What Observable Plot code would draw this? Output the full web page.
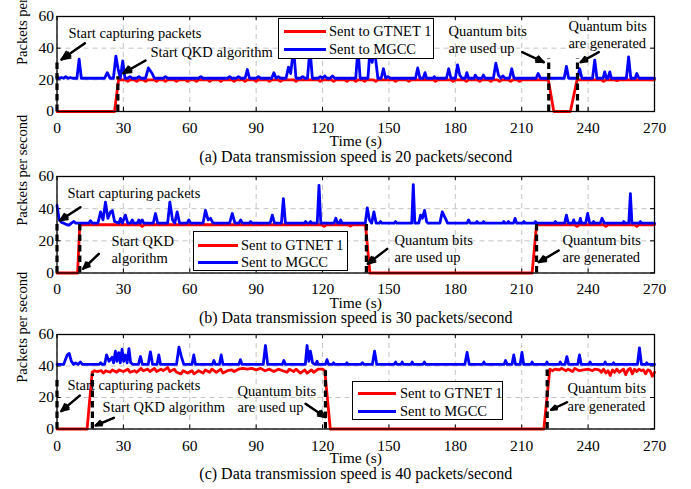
<!DOCTYPE html>
<html><head><meta charset="utf-8">
<script src="https://cdn.jsdelivr.net/npm/d3@7"></script>
<script src="https://cdn.jsdelivr.net/npm/@observablehq/plot@0.6"></script>
<style>
body{margin:0;background:#fff;}
#root{position:relative;width:691px;height:489px;overflow:hidden;font-family:"Liberation Serif","Times New Roman",serif;background:#fff;}
.panel{position:absolute;left:0;}
.legend{position:absolute;background:#fff;border:1px solid #000;box-sizing:border-box;font-size:14.5px;color:#000;}
.row{position:absolute;left:0;height:18px;display:flex;align-items:center;white-space:nowrap;}
.sw{display:inline-block;height:3px;}
</style></head><body><div id="root"></div>
<script>
// ---------- axis ticks ----------
const xTicks = [0, 30, 60, 90, 120, 150, 180, 210, 240, 270];
const yTicks = [0, 20, 40, 60];
const seriesNames = ["Sent to GTNET 1", "Sent to MGCC"];
const seriesColors = ["#ff0000", "#0000ff"];
const captions = [
  "(a) Data transmission speed is 20 packets/second",
  "(b) Data transmission speed is 30 packets/second",
  "(c) Data transmission speed is 40 packets/second"
];

// ---------- panel (a): 20 packets/second ----------
const aRed = [[0,0],[26,0],[27.8,20],[31,20],[32,19],[33,20],[35,20],[36,19],[37,20],[39,20],[40,19],[41,20],[44,20],[45,19],[46,20],[48,20],[49,19],[50,20],[53,20],[54,19],[55,20],[58,20],[59,19],[60,20],[62,20],[63,19],[64,20],[68,20],[69,19],[70,20],[73,20],[74,19],[75,20],[79,20],[80,19],[81,20],[84,20],[85,19],[86,20],[89,20],[90,19],[91,20],[95,20],[96,19],[97,20],[100,20],[101,19],[102,20],[107,20],[108,19],[109,20],[118,20],[119,19],[120,20],[124,20],[125,19],[126,20],[130,20],[131,19],[132,20],[134,20],[135,19],[136,20],[138,20],[139,19],[140,20],[143,20],[144,19],[145,20],[152,20],[153,19],[154,20],[158,20],[159,19],[160,20],[170,20],[171,19],[172,20],[178,20],[179,19],[180,20],[184,20],[185,19],[186,20],[190,20],[191,19],[192,20],[195,20],[196,19],[197,20],[199,20],[200,19],[201,20],[204,20],[205,19],[206,20],[208,20],[209,19],[210,20],[222,20],[224.5,0],[232,0],[235,20],[246,20],[247,19],[248,20],[252,20],[253,19.5],[254,20],[270,20]];
const aBlue = [[0,22],[1,21],[2,21.5],[3,21],[4,22],[5,21],[6,21.5],[7,21],[9,21],[10,33],[11,21],[21.5,21],[22.7,24.5],[24,21],[25.5,21],[26.6,35],[27.6,27],[28.6,21],[29.7,32],[30.7,21],[32,21],[33,22],[34,21],[36,21],[37,22],[38,21],[40,21],[41.3,27.5],[43,24],[44,21],[48,21],[49,22],[50,21],[64,21],[65,22],[66,21],[77,21],[78,22],[79,21],[81,21],[82,22],[83,21],[85,21],[86,26.5],[87,21],[90,21],[91,22],[92,21],[97,21],[98,24.5],[99,21],[100,22],[101,21],[103.5,21],[104.6,28],[105.6,24],[106.9,40],[108,21],[110,21],[111,22],[112,21],[113.2,21],[114.3,40],[115.4,21],[118,21],[119,22],[120,21],[121,22.5],[122,21],[123.5,21],[124.5,22.5],[125.5,21],[135,21],[136,40],[137,21],[140.5,21],[141.5,40],[142.4,31],[143.4,40],[145,21],[146.5,21],[147.5,27],[148.5,21],[149.5,22],[150.5,21],[162,21],[163,27.5],[164,21],[165.5,21],[166.3,24.5],[167,21],[170,21],[170.5,22],[171,21],[176,21],[177,27],[178,21],[180,21],[181,29.5],[182,23],[183,21],[184.5,21],[185.2,24.5],[186,21],[188.5,21],[189,23],[190,21],[192,21],[192.7,23],[193.5,21],[197.2,21],[198.3,30.5],[199.5,23],[200.5,21],[201.5,22.5],[202.5,21],[204.5,21],[205.5,27],[206.5,21],[216.5,21],[217.4,24],[218.5,21],[229.2,21],[230.2,28.5],[231.2,21],[235.2,21],[236.2,27],[237.2,21],[242,21],[243,32.5],[244,21],[246.8,21],[247.5,25],[248.3,21],[249,21],[249.8,25],[250.5,21],[257.3,21],[258.3,34.5],[259.3,21],[261.3,21],[262,24],[263,21],[270,21]];
const aEvents = [[0,33],[27.5,22],[222.2,33.5],[235.2,33.5]];
const aNotes = [[5.2,49.5,"Start capturing packets"],[42.2,37.1,"Start QKD algorithm"],[176.9,50.5,"Quantum bits"],[176.9,40,"are used up"],[231.1,53.7,"Quantum bits"],[231.1,42.8,"are generated"]];
const aArrows = [[12.6,43.1,2.0,32.8],[40,32.2,29.9,24.2],[210.2,37.5,220,31.1],[244.8,37.5,236.6,31.1]];

// ---------- panel (b): 30 packets/second ----------
const bRed = [[0,0],[9.3,0],[10.3,30],[37.5,30],[38.5,29],[39.5,30],[119.7,30],[120.7,29],[121.7,30],[131.6,30],[132.6,29.2],[133.6,30],[139.4,30],[141.4,0],[214.7,0],[216.7,30],[234,30],[235,29],[236,30],[247,30],[248,29],[249,30],[261,30],[262,29],[263,30],[270,30]];
const bBlue = [[0,42],[1,33],[2,31.5],[3,31],[4.5,30],[5.5,29.8],[6.5,31],[7.6,32],[8.5,31],[14.5,31],[15.1,32.5],[16,31],[18.5,31],[19.7,38],[20.8,33],[21.9,44],[23,34],[24.2,38],[25,38.8],[26,32],[28,31],[28.7,34],[29.5,31],[30.9,36],[32,31],[33.3,31],[34,33],[34.7,31],[36.3,31],[37,33],[37.7,31],[38.5,33],[39.2,31],[43.5,31],[44.5,37],[45.5,31],[50,31],[51,44],[52.2,33],[53.2,31],[54.3,38],[55.4,31],[58.8,31],[59.6,33],[60.4,31],[66,31],[67.1,39],[68.3,33],[69.4,34],[70.5,31],[78,31],[79.2,37],[80.4,31],[82.2,31],[83,33],[83.8,31],[86.8,31],[87.5,32],[88.2,31],[96.3,31],[97.3,36],[98.3,31],[101.4,31],[102.3,46.3],[103.2,31],[111.7,31],[112.3,32],[113,31],[114,31],[114.6,32],[115.2,31],[117.6,31],[118.4,54.5],[119.2,31],[125.2,31],[126,34],[126.8,31],[127.6,31],[128.2,33],[128.8,31],[139.3,31],[140.2,40.5],[141.2,33],[142.2,31],[143.2,38],[144.2,31],[145.6,31],[146.2,32],[146.8,31],[152.4,31],[153,32],[153.6,31],[160.3,31],[161,55],[161.7,31],[163.5,31],[164.3,36],[165.1,34],[166.1,39],[167,32],[167.6,31],[173,31],[174.1,38],[175.5,34],[176.5,31],[185.3,31],[186,33],[186.7,31],[189.3,31],[189.8,32],[190.3,31],[192.3,31],[192.8,32],[193.3,31],[201.4,31],[201.9,32],[202.4,31],[203.5,31],[204,32],[204.5,31],[206.3,31],[207,34],[207.7,31],[210.5,31],[211,32],[211.5,31],[215.7,31],[216.2,32],[216.7,31],[224.7,31],[225.2,32],[225.7,31],[229.4,31],[230.2,36],[231,31],[233,31],[233.5,33],[234,31],[236,31],[236.5,34],[237,31],[238.9,31],[239.8,37],[240.7,31],[242,31],[242.5,32],[243,31],[245.5,31],[246.3,34],[247.3,31],[255.6,31],[256.1,32],[256.6,31],[258.4,31],[259.1,49.4],[259.8,31],[263,31],[263.6,32],[264.2,31],[270,31]];
const bEvents = [[0,32.5],[10.3,31.5],[139.8,31.5],[216.7,31.5]];
const bNotes = [[4.7,49.3,"Start capturing packets"],[24.6,19.8,"Start QKD"],[24.6,8.8,"algorithm"],[152.5,20.6,"Quantum bits"],[152.5,9.8,"are used up"],[228.4,20.6,"Quantum bits"],[228.4,9.8,"are generated"]];
const bArrows = [[10.6,40.9,1.3,32.6],[18.9,11.9,11.8,2.6],[149.2,15,140.4,5.7],[226.7,14,217.7,6.7]];

// ---------- panel (c): 40 packets/second ----------
const cRed = [[0,0],[13.6,0],[15.9,36],[17,37],[18,36.5],[20,37],[21,35.5],[22,37],[24,36],[25,37.5],[27,36],[28,37.5],[30,36.5],[32,38],[33,36],[35,37],[36,36],[38,38.5],[39,37],[41,38],[42,36.5],[44,38.5],[45,36.5],[47,38],[48,37],[50,39],[51,36.5],[53,38],[54,36],[56,35],[57,37],[59,35.5],[61,37],[62,35],[64,37],[66,35.5],[67,37.5],[69,36],[70,38],[72,36],[74,38],[75,35.5],[77,37],[79,37.5],[80,36.5],[82,38],[84,38.5],[86,38],[88,38.5],[90,37.5],[92,38.5],[94,37],[96,38],[98,36.5],[100,38],[102,37],[104,36],[105,38],[107,36.5],[108,38],[110,35.5],[112,37.5],[113,35.5],[115,37.5],[116,36],[118,38],[120,38],[121,37],[123.5,0],[220,0],[222.7,38],[224,37],[225,38],[227,37.5],[228,38.5],[230,37],[231,38],[233,36.5],[234,38.5],[236,37],[238,37.5],[240,38],[242,37],[243,38],[245,37.5],[246,36],[247,38],[248,35.5],[249,37],[250,34],[251,37.5],[252,36],[253,38],[254,36],[255,37],[256,38],[257,34.5],[258,37.5],[259,38.5],[260,35],[261,38],[262,36.5],[263,38],[264,37],[265,37.5],[266,35],[267,37.5],[268,37],[269,33.5],[270,36]];
const cBlue = [[0,41],[3,41],[4.6,47],[5.5,48],[6.5,43],[7.5,41],[8.4,42],[9.5,41],[10.6,42.5],[11.5,41],[19,41],[19.7,42],[20.4,41],[21.5,41],[22.4,47],[23.5,43],[24.9,45.5],[25.6,42],[26.4,49.4],[27.1,43],[27.9,48.5],[28.6,42],[29.4,50.7],[30.1,43],[30.9,47],[31.7,42],[32.5,51],[33.3,42],[34.5,41],[36.8,41],[37.7,46],[38.6,41],[41.2,41],[42.2,49],[43.2,41],[45.2,41],[46,47],[46.8,41],[54,41],[55.1,52],[56.2,46],[57.3,41],[61,41],[61.8,47],[62.6,41],[70.2,41],[70.9,43.5],[71.6,41],[73.4,41],[74.2,47],[75,41],[82.2,41],[82.9,44],[83.6,41],[93.2,41],[94.2,53],[95.2,41],[101.8,41],[102.5,43.5],[103.2,41],[112.2,41],[113,53],[113.8,43],[114.5,49.5],[115.5,42],[116.5,41],[117,41],[117.5,43],[118,41],[121.3,41],[122,44],[122.7,41],[124.5,41],[125,42],[125.5,41],[130.5,41],[131,42],[131.5,41],[137.3,41],[138,42],[138.7,41],[142.5,41],[143.5,49.4],[144.5,41],[152.4,41],[153,42.5],[153.6,41],[155.4,41],[156,42.5],[156.6,41],[160,41],[160.5,42.5],[161,41],[165.4,41],[166,42.5],[166.6,41],[184.3,41],[185.3,48.6],[186.3,41],[192.3,41],[192.9,42.5],[193.5,41],[202,41],[202.7,43.5],[203.4,41],[205.6,41],[206.4,47],[207.2,41],[209.3,41],[210.1,48.6],[210.9,41],[214.2,41],[214.7,42.5],[215.2,41],[220.9,41],[221.4,42.5],[221.9,41],[226.9,41],[227.4,42.5],[227.9,41],[229.6,41],[230.4,46],[231.2,41],[235.3,41],[236.1,47],[236.9,41],[240.4,41],[240.9,42.5],[241.4,41],[247.2,41],[247.7,42.5],[248.2,41],[251,41],[251.5,42],[252,41],[262.3,41],[263.2,51.5],[264.1,41],[266,41],[266.5,42],[267,41],[270,41]];
const cEvents = [[0,33],[16,35],[121.3,37],[221.5,38]];
const cNotes = [[4.7,27.6,"Start capturing packets"],[20.6,13.5,"Start QKD algorithm"],[81.6,24,"Quantum bits"],[81.6,13.5,"are used up"],[230.7,25.5,"Quantum bits"],[230.7,14.5,"are generated"]];
const cArrows = [[10.3,21.2,1.9,11.3],[25.7,7.1,17.4,2.2],[112.3,16,121.3,7.5],[230.5,17,223.3,12.2]];

// ---------- layout ----------
const panels = [
  {top: 0,   height: 162,   mt: 16, mb: 51,   red: aRed, blue: aBlue, events: aEvents, notes: aNotes, arrows: aArrows, caption: captions[0], tickPad: 10, timeDy: 30, capDy: 45.5,
   legend: {left: 278, top: 18, w: 156, h: 41, lineL: 5, lineW: 42, textL: 50, r1: 3, r2: 21}},
  {top: 160, height: 163.5, mt: 16, mb: 51,   red: bRed, blue: bBlue, events: bEvents, notes: bNotes, arrows: bArrows, caption: captions[1], tickPad: 9.5, timeDy: 29.6, capDy: 45,
   legend: {left: 193, top: 231, w: 155, h: 40, lineL: 4, lineW: 40, textL: 47, r1: 4, r2: 21}},
  {top: 318, height: 171,   mt: 16, mb: 60.5, red: cRed, blue: cBlue, events: cEvents, notes: cNotes, arrows: cArrows, caption: captions[2], tickPad: 10.5, timeDy: 29, capDy: 45,
   legend: {left: 352, top: 381, w: 151, h: 39, lineL: 5, lineW: 38, textL: 47, r1: 2, r2: 20}}
];

const root = document.getElementById("root");
const W = 691, ML = 56.5, MR = 37;

panels.forEach(p => {
  const plotH = p.height - p.mt - p.mb;
  const tyLen = 60 * 4 / plotH;            // 4px inward tick, in y units
  const txLen = 270 * 4 / (W - ML - MR);   // 4px inward tick, in x units
  const arrowOpts = {x1: d => d[0], y1: d => d[1], x2: d => d[2], y2: d => d[3], stroke: "black"};
  const chart = Plot.plot({
    width: W, height: p.height,
    marginLeft: ML, marginRight: MR, marginTop: p.mt, marginBottom: p.mb,
    style: {fontFamily: "'Liberation Serif','Times New Roman',serif", fontSize: "15.5px", color: "black", background: "transparent", overflow: "visible"},
    x: {domain: [0, 270]},
    y: {domain: [0, 60]},
    marks: [
      Plot.gridX(xTicks, {stroke: "#c4c4c4", strokeOpacity: 1, strokeWidth: 1, strokeDasharray: "5,4"}),
      Plot.gridY(yTicks, {stroke: "#c4c4c4", strokeOpacity: 1, strokeWidth: 1, strokeDasharray: "5,4"}),
      Plot.axisX(xTicks, {tickSize: 0, tickPadding: p.tickPad, label: null, fontSize: 15.5}),
      Plot.axisY(yTicks, {tickSize: 0, tickPadding: 3, label: null, fontSize: 15.5}),
      Plot.ruleX(xTicks, {y1: 0, y2: tyLen, stroke: "black", strokeWidth: 1}),
      Plot.ruleX(xTicks, {y1: 60 - tyLen, y2: 60, stroke: "black", strokeWidth: 1}),
      Plot.ruleY(yTicks, {x1: 0, x2: txLen, stroke: "black", strokeWidth: 1}),
      Plot.ruleY(yTicks, {x1: 270 - txLen, x2: 270, stroke: "black", strokeWidth: 1}),
      Plot.line(p.red, {x: d => d[0], y: d => d[1], stroke: seriesColors[0], strokeWidth: 2.8, curve: "linear"}),
      Plot.line(p.blue, {x: d => d[0], y: d => d[1], stroke: seriesColors[1], strokeWidth: 2.8, curve: "linear"}),
      Plot.ruleX(p.events, {x: d => d[0], y1: 0, y2: d => d[1], stroke: "black", strokeWidth: 3.2, strokeDasharray: "6.5,4"}),
      Plot.frame({stroke: "black", strokeWidth: 1.3}),
      Plot.arrow(p.arrows, {...arrowOpts, strokeWidth: 1.6, headLength: 9, headAngle: 50}),
      Plot.arrow(p.arrows, {...arrowOpts, strokeWidth: 2.4, headLength: 8, headAngle: 26}),
      Plot.text(p.notes, {x: d => d[0], y: d => d[1], text: d => d[2], textAnchor: "start", lineAnchor: "middle", fontSize: 14.5, fill: "black"}),
      Plot.text(["Time (s)"], {frameAnchor: "bottom", dy: p.timeDy, lineAnchor: "middle", fontSize: 15.5, fill: "black"}),
      Plot.text([p.caption], {frameAnchor: "bottom", dy: p.capDy, lineAnchor: "middle", fontSize: 16, fill: "black"}),
      Plot.text(["Packets per second"], {frameAnchor: "left", dx: -34.5, dy: 1, rotate: -90, lineAnchor: "middle", fontSize: 14.6, fill: "black"})
    ]
  });
  const wrap = document.createElement("div");
  wrap.className = "panel";
  wrap.style.top = p.top + "px";
  wrap.appendChild(chart);
  root.appendChild(wrap);

  // legend
  const L = p.legend;
  const lg = document.createElement("div");
  lg.className = "legend";
  Object.assign(lg.style, {left: L.left + "px", top: L.top + "px", width: L.w + "px", height: L.h + "px"});
  seriesNames.forEach((name, i) => {
    const row = document.createElement("div");
    row.className = "row";
    row.style.top = (i === 0 ? L.r1 : L.r2) + "px";
    const sw = document.createElement("span");
    sw.className = "sw";
    Object.assign(sw.style, {position: "absolute", left: L.lineL + "px", width: L.lineW + "px", background: seriesColors[i]});
    const tx = document.createElement("span");
    tx.textContent = name;
    Object.assign(tx.style, {position: "absolute", left: L.textL + "px"});
    row.appendChild(sw); row.appendChild(tx);
    row.style.width = L.w + "px";
    lg.appendChild(row);
  });
  root.appendChild(lg);
});
</script></body></html>
